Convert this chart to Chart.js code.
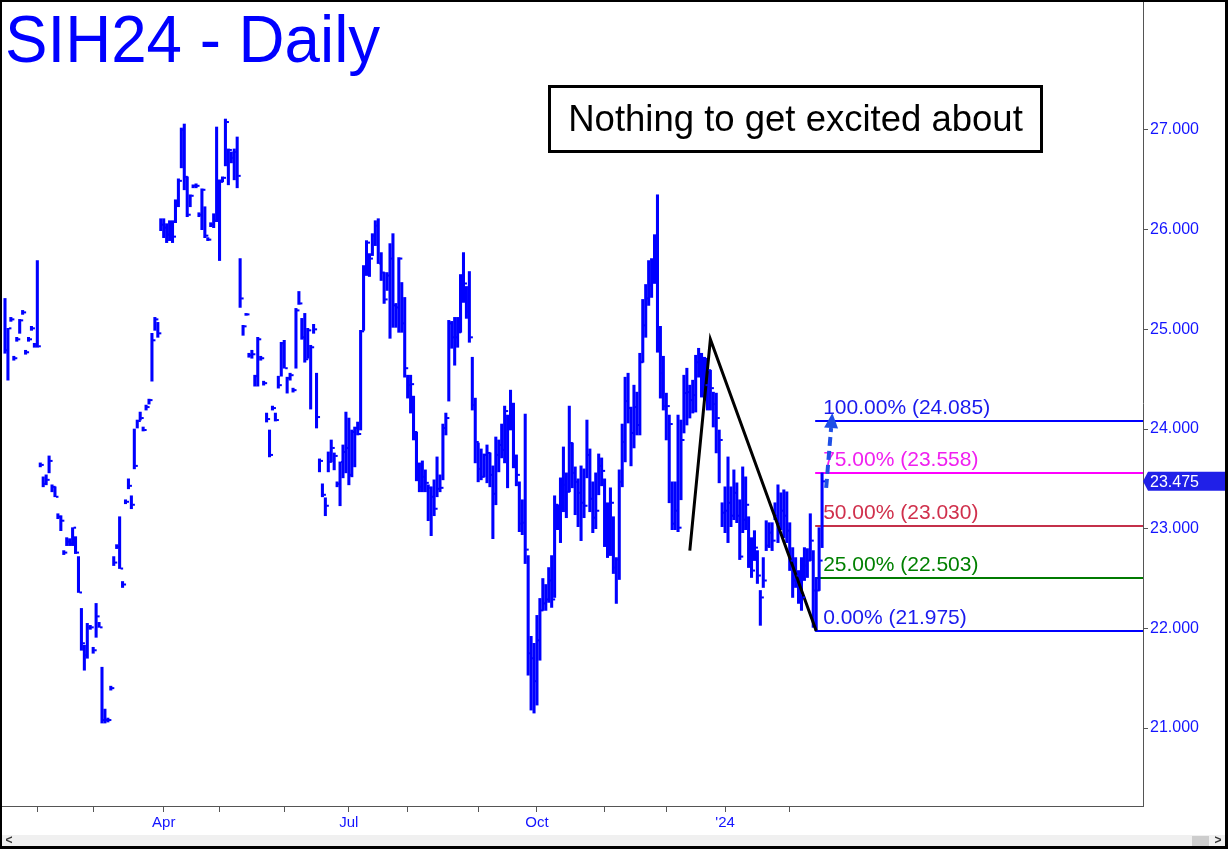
<!DOCTYPE html>
<html lang="en">
<head>
<meta charset="UTF-8" />
<title>SIH24 - Daily</title>
<script src="https://cdn.jsdelivr.net/npm/chart.js"></script>
<style>
  * { margin: 0; padding: 0; box-sizing: border-box; }
  body { background: #fff; width: 1228px; height: 849px; overflow: hidden; }
  #wrap { width: 1228px; height: 849px; }
</style>
</head>
<body>
<div id="wrap"><canvas id="chart" width="1228" height="849"></canvas></div>
<script>
// daily HLC bars, oldest first
const highs = [
  25.31,25.01,25.12,24.73,24.92,25.10,25.19,24.79,24.92,25.03,24.86,25.69,23.66,23.52,23.54,23.73,23.44,23.42,23.15,23.13,
  22.78,22.91,22.90,23.01,22.92,22.72,22.20,21.83,22.05,22.03,21.81,22.25,22.06,21.61,21.19,21.10,21.42,22.72,22.84,23.12,
  22.47,23.29,23.50,23.33,24.00,24.09,24.17,24.02,24.24,24.30,24.96,25.12,25.07,26.11,26.11,26.06,26.09,26.09,26.30,26.51,
  27.02,27.06,26.53,26.35,26.45,26.46,26.17,26.41,26.23,25.92,26.07,26.16,27.03,26.50,26.53,27.11,26.81,26.78,26.81,26.93,
  25.71,25.04,25.16,24.76,24.79,24.54,24.92,24.73,24.48,24.16,23.99,24.23,24.16,24.53,24.87,24.89,24.52,24.56,24.41,25.21,
  25.38,25.11,25.16,25.01,24.84,25.05,24.56,23.70,23.45,23.31,23.77,23.89,23.76,23.47,23.67,23.84,24.17,24.11,23.99,24.02,
  24.07,24.99,25.64,25.89,25.76,25.96,26.09,26.11,25.77,25.57,25.57,25.86,25.96,25.26,25.72,25.47,25.32,24.54,24.54,24.33,
  23.97,23.66,23.68,23.59,23.44,23.42,23.49,23.72,23.54,24.05,24.16,25.09,25.08,25.12,25.12,25.55,25.77,25.43,25.58,24.72,
  24.31,23.86,23.80,23.75,23.84,23.76,23.63,23.92,23.89,24.05,24.23,24.14,24.39,24.26,23.74,23.47,23.29,24.15,22.73,21.92,
  21.85,22.13,22.30,22.50,22.44,22.61,22.73,23.33,23.24,23.51,23.82,23.56,24.23,23.86,23.62,23.50,23.63,23.60,24.09,23.80,
  23.47,23.56,23.75,23.71,23.50,23.26,23.41,23.12,22.71,23.59,24.05,24.52,24.56,24.22,24.44,24.37,24.76,25.30,25.45,25.69,
  25.71,25.95,26.35,25.03,24.73,24.36,24.14,23.47,23.47,24.14,24.09,24.54,24.61,24.44,24.49,24.74,24.81,24.76,24.72,24.71,
  24.59,24.37,24.36,23.99,23.26,23.42,23.72,23.42,23.59,23.46,23.29,23.62,23.52,23.12,22.91,22.98,22.78,22.38,22.71,23.08,
  23.06,23.06,23.26,23.44,23.36,23.39,23.37,23.06,22.81,22.71,22.58,22.71,22.81,22.80,23.15,22.78,22.51,23.01,23.56
];
const lows = [
  24.76,24.49,25.08,24.69,24.88,24.96,25.15,24.75,24.88,24.99,24.82,24.82,23.62,23.42,23.44,23.56,23.37,23.32,23.10,22.98,
  22.74,22.83,22.83,22.83,22.75,22.36,21.78,21.58,21.70,21.99,21.75,21.91,22.01,21.05,21.05,21.06,21.38,22.63,22.80,22.60,
  22.41,23.25,23.40,23.20,23.60,24.01,24.09,23.98,24.19,24.25,24.48,24.99,24.92,25.99,25.92,25.87,25.89,25.87,26.07,26.23,
  26.62,26.40,26.13,26.23,26.42,26.42,26.13,26.00,25.92,25.89,26.03,26.02,26.08,25.69,26.48,26.64,26.45,26.67,26.50,26.42,
  25.22,24.94,25.14,24.72,24.71,24.43,24.43,24.69,24.44,24.07,23.72,24.19,24.08,24.41,24.53,24.61,24.36,24.49,24.37,24.61,
  25.25,24.90,24.67,24.71,24.20,24.96,24.01,23.57,23.32,23.13,23.57,23.67,23.59,23.42,23.23,23.51,23.56,23.44,23.52,23.62,
  23.94,23.99,24.99,25.54,25.53,25.74,25.84,25.66,25.49,25.26,25.39,24.91,25.02,25.02,24.97,24.97,24.52,24.31,24.16,23.89,
  23.48,23.37,23.37,23.37,23.08,22.93,23.13,23.32,23.37,23.49,23.94,24.28,24.81,24.64,24.82,24.97,25.27,25.11,24.87,24.19,
  23.66,23.47,23.49,23.52,23.46,23.42,22.90,23.24,23.57,23.71,23.66,23.41,23.99,23.61,23.43,22.97,22.94,22.65,21.53,21.18,
  21.15,21.23,21.68,22.18,22.18,22.26,22.21,22.31,22.99,22.86,23.17,23.11,23.37,23.41,23.14,23.02,22.88,23.11,23.51,23.17,
  22.96,23.00,23.34,23.43,22.82,22.71,22.73,22.55,22.25,22.49,23.42,23.67,24.06,23.63,23.81,23.94,23.94,24.67,24.92,25.24,
  25.32,25.46,24.77,24.31,24.19,23.89,23.26,22.99,22.99,22.97,23.29,23.96,24.04,24.11,24.16,24.17,24.52,24.32,24.29,24.19,
  24.19,24.02,23.76,23.46,23.02,22.96,22.86,23.02,23.09,23.06,22.69,22.96,22.99,22.61,22.51,22.68,22.45,22.03,22.41,22.78,
  22.81,22.78,23.09,22.86,22.99,22.91,22.86,22.58,22.31,22.41,22.25,22.18,22.48,22.51,22.68,22.01,21.975,22.38,22.81
];
const closes = [
  24.79,25.01,25.10,24.71,24.90,25.09,25.17,24.77,24.90,25.01,24.84,24.83,23.64,23.45,23.49,23.68,23.42,23.32,23.12,23.08,
  22.76,22.87,22.85,23.01,22.76,22.36,21.85,21.73,22.01,22.01,21.78,22.12,22.01,21.08,21.08,21.08,21.40,22.66,22.82,22.60,
  22.44,23.27,23.43,23.24,23.63,24.08,24.11,23.99,24.22,24.29,24.89,25.10,24.96,26.05,26.02,25.95,26.05,25.93,26.24,26.49,
  27.00,26.53,26.15,26.34,26.44,26.44,26.15,26.40,25.94,25.90,26.05,26.09,26.09,26.48,26.52,27.08,26.80,26.72,26.78,26.54,
  25.31,25.03,25.15,24.74,24.75,24.53,24.90,24.71,24.46,24.10,23.74,24.21,24.09,24.44,24.86,24.61,24.51,24.54,24.39,25.19,
  25.26,24.92,24.70,24.99,24.82,25.00,24.12,23.68,23.34,23.23,23.67,23.81,23.73,23.45,23.67,23.77,23.81,23.54,23.97,24.01,
  23.95,24.98,25.62,25.87,25.71,25.94,26.04,25.66,25.57,25.30,25.54,25.71,25.24,25.22,25.71,25.06,24.61,24.44,24.45,23.97,
  23.52,23.42,23.52,23.46,23.41,23.32,23.20,23.40,23.41,24.01,24.11,25.06,24.92,24.92,24.97,25.51,25.46,25.18,24.92,24.24,
  23.87,23.60,23.52,23.74,23.76,23.54,23.35,23.74,23.84,23.79,24.18,24.01,24.19,23.73,23.54,23.05,23.06,22.79,21.75,21.70,
  21.47,21.88,22.18,22.25,22.29,22.48,22.29,23.24,23.09,23.36,23.44,23.37,23.86,23.56,23.47,23.36,23.26,23.23,23.74,23.30,
  23.11,23.18,23.63,23.58,22.92,23.05,23.26,22.61,22.69,23.47,23.87,24.28,24.21,23.96,24.22,24.04,24.67,25.04,25.31,25.44,
  25.66,25.86,24.91,24.56,24.23,24.23,24.05,23.05,23.18,23.01,23.89,24.36,24.37,24.29,24.34,24.67,24.69,24.59,24.44,24.59,
  24.41,24.25,24.11,23.89,23.16,23.18,23.26,23.13,23.36,23.13,22.72,23.09,23.24,22.78,22.58,22.81,22.53,22.31,22.48,22.83,
  22.96,22.88,23.13,23.05,23.18,23.13,22.98,22.68,22.48,22.53,22.33,22.31,22.63,22.68,22.88,22.38,22.38,22.68,23.475
];

// first bar of each month (bar index) and the labels shown under them
const monthTicks = [11, 30, 54, 73, 95, 117, 137, 161, 181, 204, 225, 245, 267];
const monthLabels = ['', '', 'Apr', '', '', 'Jul', '', '', 'Oct', '', '', "'24", ''];
const priceTicks = [21, 22, 23, 24, 25, 26, 27];

// swing drawn in black: low -> high -> low
const swingIdx = [233, 240, 276];
const swingVals = [22.78, 24.90, 21.975];

// retracement levels off the 21.975 low
const fibLevels = [21.975, 22.503, 23.030, 23.558, 24.085];
const fibPct = ['0.00%', '25.00%', '50.00%', '75.00%', '100.00%'];
const fibLineColors = ['#0000ff', '#007a00', '#c4304a', '#ff00ff', '#0000ff'];
const fibTextColors = ['#1a1aee', '#008000', '#d0304c', '#f020f0', '#1a1aee'];
const fibStart = 276;

// dashed projection arrow
const arrowIdx = [279.4, 281.5];
const arrowVals = [23.41, 24.16];
const lastClose = 23.475;

const family = "'Liberation Sans', Arial, sans-serif";

const decor = {
  id: 'decor',
  beforeDraw(chart) {
    const c = chart.ctx;
    c.save();
    c.fillStyle = '#fff';
    c.fillRect(0, 0, chart.width, chart.height);
    c.restore();
  },
  beforeDatasetsDraw(chart) {
    const { ctx, chartArea } = chart;
    const { x, y } = chart.scales;
    const x0 = x.getPixelForValue(fibStart);
    ctx.save();
    ctx.lineWidth = 2;
    fibLevels.forEach((v, i) => {
      const py = Math.round(y.getPixelForValue(v));
      ctx.strokeStyle = fibLineColors[i];
      ctx.beginPath();
      ctx.moveTo(x0 - 1, py);
      ctx.lineTo(chartArea.right, py);
      ctx.stroke();
    });
    ctx.restore();
  },
  afterDatasetsDraw(chart) {
    const { ctx } = chart;
    const { x, y } = chart.scales;
    ctx.save();

    // close ticks on the right side of each bar
    ctx.fillStyle = '#0000ff';
    closes.forEach((c, i) => {
      const px = x.getPixelForValue(i);
      const py = y.getPixelForValue(c);
      ctx.fillRect(px + 1, py - 1, 2.5, 2);
    });

    // fib labels
    const x0 = x.getPixelForValue(fibStart);
    ctx.font = '21px ' + family;
    ctx.textBaseline = 'alphabetic';
    ctx.textAlign = 'left';
    fibLevels.forEach((v, i) => {
      const py = y.getPixelForValue(v);
      ctx.fillStyle = fibTextColors[i];
      ctx.fillText(fibPct[i] + ' (' + v.toFixed(3) + ')', x0 + 7, py - 7);
    });

    // projection arrow
    const ax0 = x.getPixelForValue(arrowIdx[0]), ay0 = y.getPixelForValue(arrowVals[0]);
    const ax1 = x.getPixelForValue(arrowIdx[1]), ay1 = y.getPixelForValue(arrowVals[1]);
    const ang = Math.atan2(ay1 - ay0, ax1 - ax0);
    const head = 15, half = 7;
    const bx = ax1 - head * Math.cos(ang), by = ay1 - head * Math.sin(ang);
    ctx.strokeStyle = '#1f4fe6';
    ctx.fillStyle = '#1f4fe6';
    ctx.lineWidth = 4;
    ctx.setLineDash([9, 5]);
    ctx.beginPath();
    ctx.moveTo(ax0, ay0);
    ctx.lineTo(bx, by);
    ctx.stroke();
    ctx.setLineDash([]);
    ctx.beginPath();
    ctx.moveTo(ax1, ay1);
    ctx.lineTo(bx + half * Math.sin(ang), by - half * Math.cos(ang));
    ctx.lineTo(bx - half * Math.sin(ang), by + half * Math.cos(ang));
    ctx.closePath();
    ctx.fill();
    ctx.restore();
  },
  afterDraw(chart) {
    const { ctx } = chart;
    const { y } = chart.scales;
    ctx.save();

    // title
    ctx.save();
    ctx.translate(5, 62);
    ctx.scale(0.965, 1);
    ctx.font = '66px ' + family;
    ctx.fillStyle = '#0000ff';
    ctx.textBaseline = 'alphabetic';
    ctx.fillText('SIH24 - Daily', 0, 0);
    ctx.restore();

    // comment box
    ctx.fillStyle = '#fff';
    ctx.fillRect(549, 86, 493, 66);
    ctx.strokeStyle = '#000';
    ctx.lineWidth = 3;
    ctx.strokeRect(549.5, 86.5, 492, 65);
    ctx.fillStyle = '#000';
    ctx.font = '36.5px ' + family;
    ctx.textAlign = 'center';
    ctx.fillText('Nothing to get excited about', 795.5, 131);

    // last price marker on the axis
    const py = y.getPixelForValue(lastClose);
    ctx.fillStyle = '#2020e8';
    ctx.beginPath();
    ctx.moveTo(1143, py);
    ctx.lineTo(1148, py - 9.5);
    ctx.lineTo(1226, py - 9.5);
    ctx.lineTo(1226, py + 9.5);
    ctx.lineTo(1148, py + 9.5);
    ctx.closePath();
    ctx.fill();
    ctx.fillStyle = '#fff';
    ctx.font = '16px ' + family;
    ctx.textAlign = 'left';
    ctx.textBaseline = 'middle';
    ctx.fillText(lastClose.toFixed(3), 1150, py + 1);

    // scroll strip
    ctx.fillStyle = '#f0f0f0';
    ctx.fillRect(2, 835, 1223, 11);
    ctx.fillStyle = '#cdcdcd';
    ctx.fillRect(1192, 836, 17, 10);
    ctx.fillStyle = '#333';
    ctx.font = 'bold 12px ' + family;
    ctx.textAlign = 'center';
    ctx.fillText('<', 9, 841);
    ctx.fillText('>', 1218, 841);

    // frame
    ctx.fillStyle = '#000';
    ctx.fillRect(0, 0, 1228, 2);
    ctx.fillRect(0, 0, 2, 849);
    ctx.fillRect(1225, 0, 3, 849);
    ctx.fillRect(0, 846, 1228, 3);
    ctx.restore();
  }
};

new Chart(document.getElementById('chart'), {
  type: 'bar',
  data: {
    datasets: [
      {
        type: 'line',
        data: swingIdx.map((v, i) => ({ x: v, y: swingVals[i] })),
        borderColor: '#000',
        borderWidth: 3,
        pointRadius: 0,
        order: 0
      },
      {
        type: 'bar',
        data: highs.map((h, i) => ({ x: i, y: [lows[i], h] })),
        backgroundColor: '#0000ff',
        borderWidth: 0,
        barThickness: 2.4,
        grouped: false,
        order: 1
      }
    ]
  },
  options: {
    responsive: false,
    animation: false,
    layout: { padding: 0 },
    plugins: { legend: { display: false }, tooltip: { enabled: false } },
    scales: {
      x: {
        type: 'linear',
        offset: false,
        min: -1.70,
        max: 387.2,
        afterBuildTicks: s => { s.ticks = monthTicks.map(v => ({ value: v })); },
        afterFit: s => { s.height = 43; s.paddingLeft = 0; s.paddingRight = 0; },
        ticks: {
          autoSkip: false,
          maxRotation: 0,
          color: '#1414ff',
          font: { size: 15, family: family },
          padding: 2,
          callback: (v, i) => monthLabels[i]
        },
        grid: { offset: false, drawOnChartArea: false, tickLength: 6, color: '#555' },
        border: { color: '#555' }
      },
      y: {
        position: 'right',
        min: 20.2176,
        max: 28.3043,
        afterBuildTicks: s => { s.ticks = priceTicks.map(v => ({ value: v })); },
        afterFit: s => { s.width = 85; s.paddingTop = 0; s.paddingBottom = 0; },
        ticks: {
          color: '#1414ff',
          font: { size: 16, family: family },
          padding: 2,
          callback: v => v.toFixed(3)
        },
        grid: { drawOnChartArea: false, tickLength: 5, color: '#555' },
        border: { color: '#555' }
      }
    }
  },
  plugins: [decor]
});
</script>
</body>
</html>
